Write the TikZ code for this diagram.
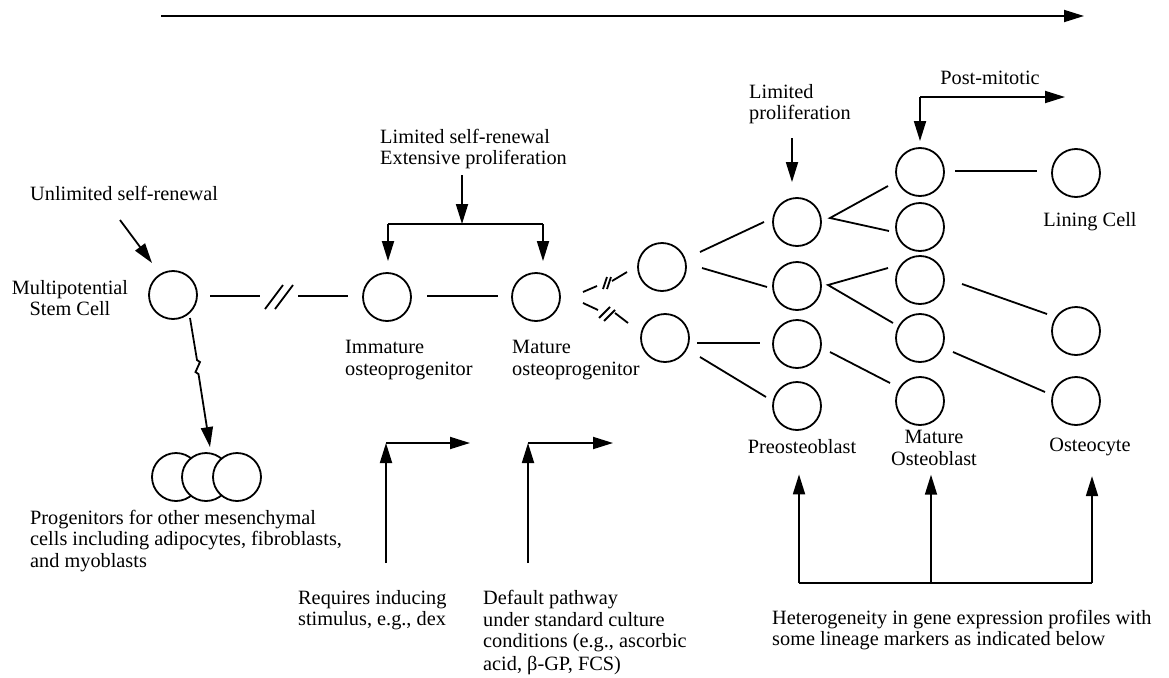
\documentclass[tikz,border=0pt]{standalone}
\usepackage{fontspec}
\setmainfont{Liberation Serif}
\usetikzlibrary{arrows.meta,calc}
\begin{document}
\begin{tikzpicture}[x=1pt,y=-1pt,
  cell/.style={circle,draw,line width=1.8pt,minimum size=48pt,inner sep=0pt,fill=white},
  conn/.style={line width=1.8pt},
  arr/.style={line width=1.8pt,-{Triangle[length=20pt,width=12pt]}},
  lbl/.style={font=\fontsize{20.3}{21.5}\selectfont,inner sep=0pt,align=left},
  lblc/.style={lbl,align=center}]
\useasboundingbox (0,0) rectangle (1169,677);

% top time arrow
\coordinate (t0) at (161,16);
\coordinate (t1) at (1084,16);
\draw[arr] (t0) -- (t1);

% cells
\node[cell] (S) at (173,295) {};
\node[cell] (I) at (387,297) {};
\node[cell] (M) at (536,297) {};
\node[cell] (A) at (662,267) {};
\node[cell] (B) at (665,338) {};
\node[cell] (c21) at (797,222) {};
\node[cell] (c22) at (797,286) {};
\node[cell] (c23) at (797,344) {};
\node[cell] (c24) at (797,406) {};
\node[cell] (c30) at (920,172) {};
\node[cell] (c31) at (920,227) {};
\node[cell] (c32) at (920,280) {};
\node[cell] (c33) at (920,338) {};
\node[cell] (c34) at (920,401) {};
\node[cell] (L) at (1076,173) {};
\node[cell] (O1) at (1076,331) {};
\node[cell] (O2) at (1076,401) {};
\node[cell] (P1) at (176,477) {};
\node[cell] (P2) at (206,477) {};
\node[cell] (P3) at (237,477) {};

% labels
\node[lbl,anchor=west] (unl) at (30,193) {Unlimited self-renewal};
\node[lblc] (msc) at (70,298) {Multipotential\\Stem Cell};
\node[lbl,anchor=west] (prog) at (30,541) {Progenitors for other mesenchymal\\cells including adipocytes, fibroblasts,\\and myoblasts};
\node[lbl,anchor=west] (lsr) at (380,149) {Limited self-renewal\\Extensive proliferation};
\node[lbl,anchor=west] (imm) at (345,360) {Immature\\osteoprogenitor};
\node[lbl,anchor=west] (mat) at (512,360) {Mature\\osteoprogenitor};
\node[lbl,anchor=west] (req) at (298,610) {Requires inducing\\stimulus, e.g., dex};
\node[lbl,anchor=west] (def) at (483,633) {Default pathway\\under standard culture\\conditions (e.g., ascorbic\\[1.5pt]acid, β-GP, FCS)};
\node[lbl,anchor=west] (limp) at (749,104) {Limited\\proliferation};
\node[lblc] (post) at (990,78) {Post-mitotic};
\node[lblc] (lin) at (1090,222) {Lining Cell};
\node[lblc] (preo) at (802,447) {Preosteoblast};
\node[lblc] (mob) at (934,448) {Mature\\Osteoblast};
\node[lblc] (ocy) at (1090,447) {Osteocyte};
\node[lbl,anchor=west] (het) at (772,630) {Heterogeneity in gene expression profiles with\\some lineage markers as indicated below};

% unlimited self-renewal arrow
\draw[arr] ($(S)+(-53,-75)$) -- ($(S)+(-21,-32)$);

% stem -> immature with break
\draw[conn] ($(S)+(37,1)$) -- ($(S)+(87,1)$);
\draw[conn] ($(S)+(92,14)$) -- ($(S)+(110,-10)$);
\draw[conn] ($(S)+(102,14)$) -- ($(S)+(120,-10)$);
\draw[conn] ($(I)+(-89,-1)$) -- ($(I)+(-39,-1)$);

% immature -> mature
\draw[conn] ($(I)+(40,-1)$) -- ($(M)+(-38,-1)$);

% limited self-renewal bracket
\coordinate (bl) at (388,224);
\coordinate (br) at (543,224);
\coordinate (bm) at (462,224);
\draw[arr] (462,175) -- (bm);
\draw[conn] (bl) -- (br);
\draw[arr] (bl) -- ($(I.north)+(1,-11)$);
\draw[arr] (br) -- ($(M.north)+(7,-11)$);

% mature -> A (broken)
\draw[conn] ($(M)+(47,-5)$) -- ($(M)+(61,-11)$);
\draw[conn] ($(M)+(67,-8)$) -- ($(M)+(71,-20)$);
\draw[conn] ($(M)+(71,-8)$) -- ($(M)+(75,-20)$);
\draw[conn] ($(A)+(-50,14)$) -- ($(A)+(-35,5)$);
% mature -> B (broken)
\draw[conn] ($(M)+(47,6)$) -- ($(M)+(62,13)$);
\draw[conn] ($(M)+(63,21)$) -- ($(M)+(74,10)$);
\draw[conn] ($(M)+(68,24)$) -- ($(M)+(79,13)$);
\draw[conn] ($(B)+(-50,-25)$) -- ($(B)+(-37,-15)$);

% col1 -> col2
\draw[conn] ($(A)+(38,-15)$) -- ($(c21)+(-33,0)$);
\draw[conn] ($(A)+(40,1)$) -- ($(c22)+(-30,1)$);
\draw[conn] ($(B)+(32,5)$) -- ($(c23)+(-37,-1)$);
\draw[conn] ($(B)+(35,19)$) -- ($(c24)+(-31,-9)$);

% col2 -> col3
\coordinate (v1) at ($(c21)+(33,-4)$);
\draw[conn] ($(c30)+(-32,14)$) -- (v1) -- ($(c31)+(-31,4)$);
\coordinate (v2) at ($(c22)+(31,-1)$);
\draw[conn] ($(c32)+(-32,-12)$) -- (v2) -- ($(c33)+(-27,-15)$);
\draw[conn] ($(c23)+(33,8)$) -- ($(c34)+(-30,-18)$);

% col3 -> col4
\draw[conn] ($(c30)+(35,-1)$) -- ($(L)+(-39,-2)$);
\draw[conn] ($(c32)+(42,4)$) -- ($(O1)+(-29,-17)$);
\draw[conn] ($(c33)+(33,14)$) -- ($(O2)+(-31,-9)$);

% limited proliferation arrow
\draw[arr] (792,138) -- ($(c21.north)+(-5,-15)$);

% post-mitotic
\coordinate (pm) at (920,97);
\coordinate (pmend) at (1065,97);
\draw[arr] (pm) -- ($(c30.north)+(0,-6)$);
\draw[arr] (pm) -- (pmend);

% stem -> other progenitors
\draw[arr] ($(S)+(17,23)$) -- (197,360) -- (200,362) -- (195.5,372) -- (198.5,374) -- ($(P2.north)+(4,-5)$);

% bottom culture arrows
\coordinate (r0) at (386,563);
\coordinate (r1) at (386,443);
\coordinate (r2) at (470,443);
\draw[arr] (r0) -- (r1);
\draw[arr] (r1) -- (r2);
\coordinate (d0) at (528,563);
\coordinate (d1) at (528,443);
\coordinate (d2) at (613,443);
\draw[arr] (d0) -- (d1);
\draw[arr] (d1) -- (d2);

% heterogeneity bracket
\coordinate (h1) at (799,583);
\coordinate (h2) at (931,583);
\coordinate (h3) at (1092,583);
\draw[conn] (h1) -- (h3);
\draw[arr] (h1) -- ($(preo.south)+(-3,20)$);
\draw[arr] (h2) -- ($(mob.south)+(-3,9)$);
\draw[arr] (h3) -- ($(ocy.south)+(2,20)$);
\end{tikzpicture}
\end{document}
